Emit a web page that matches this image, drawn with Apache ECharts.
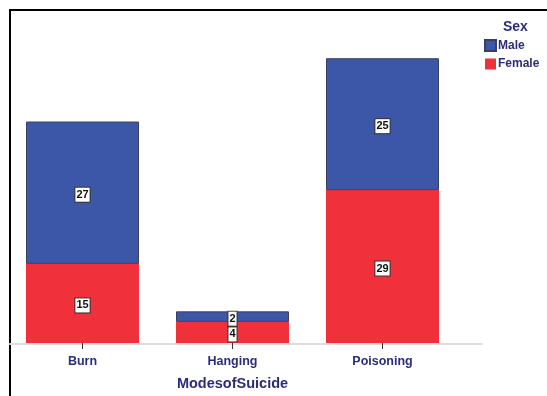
<!DOCTYPE html>
<html lang="en">
  <head>
    <meta charset="utf-8" />
    <script type="text/javascript" src="https://cdn.jsdelivr.net/npm/echarts@6/dist/echarts.min.js"></script>
    <title>ModesofSuicide by Sex</title>
    <style>
      html, body { margin: 0; padding: 0; background: #fff; }
      #frame { position: absolute; left: 9px; top: 9px; width: 538px; height: 387px;
               border-left: 2px solid #000; border-top: 2px solid #000; }
      #chart { position: absolute; left: 0; top: 0; width: 547px; height: 396px; }
    </style>
  </head>
  <body>
    <div id="frame"></div>
    <div id="chart"></div>
    <script>
      var categories = ['Burn', 'Hanging', 'Poisoning']
      var female = [15, 4, 29]
      var male = [27, 2, 25]

      var navy = '#2b2d7c'
      var label = {
        show: true,
        position: 'inside',
        offset: [0, 2],
        color: '#111',
        fontFamily: 'Liberation Sans',
        fontWeight: 'bold',
        fontSize: 11,
        lineHeight: 11,
        backgroundColor: '#fff',
        borderColor: '#333',
        borderWidth: 1,
        padding: [2, 1, 1, 1]
      }

      window.onload = function () {
        var chart = echarts.init(document.getElementById('chart'))
        chart.setOption({
          animation: false,
          textStyle: { fontFamily: 'Liberation Sans' },
          title: {
            text: 'Sex', left: 498, top: 15,
            textStyle: { color: navy, fontSize: 14, fontWeight: 'bold', fontFamily: 'Liberation Sans' }
          },
          legend: {
            data: ['Male', 'Female'],
            orient: 'vertical', left: 484, top: 39, padding: 0,
            icon: 'rect', itemWidth: 11, itemHeight: 11, itemGap: 6,
            textStyle: { color: navy, fontSize: 12, fontWeight: 'bold', fontFamily: 'Liberation Sans', padding: [0, 0, 0, -3] }
          },
          grid: [
            { left: 7.5, right: 89.5, top: 26.6, bottom: 52 },
            { left: 10, right: 65, top: 26.6, bottom: 52 }
          ],
          xAxis: [{
            type: 'category', data: categories, gridIndex: 0,
            axisLine: { show: false },
            axisTick: { show: true, alignWithLabel: true, length: 6, lineStyle: { color: '#333' } },
            axisLabel: { color: navy, fontSize: 12.5, fontWeight: 'bold', fontFamily: 'Liberation Sans', margin: 12 },
            name: 'ModesofSuicide', nameLocation: 'middle', nameGap: 33,
            nameTextStyle: { color: navy, fontSize: 14.5, fontWeight: 'bold', fontFamily: 'Liberation Sans' }
          }, {
            type: 'category', data: categories, gridIndex: 1,
            axisLine: { show: true, lineStyle: { color: '#dddddd', width: 2 } },
            axisTick: { show: false }, axisLabel: { show: false }
          }],
          yAxis: [
            { type: 'value', min: 0, max: 60, show: false, gridIndex: 0 },
            { type: 'value', min: 0, max: 60, show: false, gridIndex: 1 }
          ],
          series: [{
            name: 'Female', type: 'bar', stack: 'sex', data: female,
            barWidth: 113, z: 3,
            itemStyle: { color: '#f0303a' },
            label: label
          }, {
            name: 'Male', type: 'bar', stack: 'sex', data: male,
            barWidth: 113, z: 3,
            itemStyle: { color: '#3c57a8', borderColor: '#3a3f5e', borderWidth: 1 },
            label: label
          }]
        })
      }
    </script>
  </body>
</html>
